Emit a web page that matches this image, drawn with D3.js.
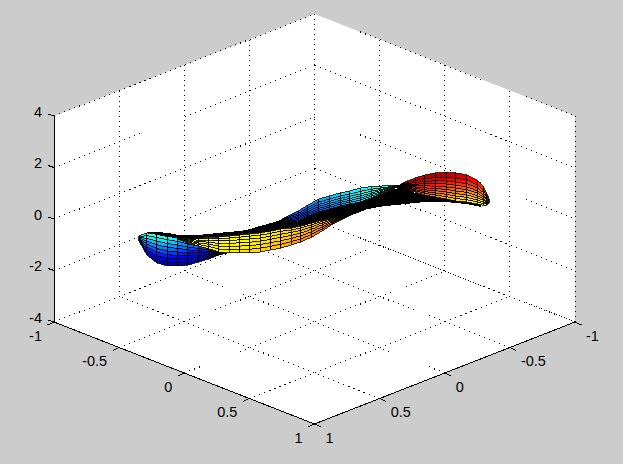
<!DOCTYPE html>
<html><head><meta charset="utf-8">
<script src="https://cdnjs.cloudflare.com/ajax/libs/d3/7.8.5/d3.min.js"></script>
<style>html,body{margin:0;padding:0;background:#ccc;overflow:hidden}svg{display:block}
text{font-family:"Liberation Sans",Arial,sans-serif;font-size:14.5px;fill:#000}</style>
</head><body><script>
const xTicks = [-1,-0.5,0,0.5,1];
const yTicks = [-1,-0.5,0,0.5,1];
const zTicks = [-4,-2,0,2,4];
const xTickLabels = ["-1","-0.5","0","0.5","1"];
const yTickLabels = ["-1","-0.5","0","0.5","1"];
const zTickLabels = ["-4","-2","0","2","4"];

// Surface. One view cannot give depth, so the ribbon is read in the plane y = -x.
const lobeX   = [-.674,-.643,-.605,-.564,-.524,-.486,-.445,-.405,-.367,-.336];
const lobeZ0  = [-.66,-.54,-.58,-.66,-.74,-.85,-.97,-1.09,-1.20,-1.32];
const lobeZ1  = [-.85,-1.40,-1.71,-1.82,-1.82,-1.79,-1.67,-1.55,-1.40,-1.32];
const lobeC0  = [.42,.44,.44,.42,.36,.30,.24,.20,.16,.12];
const lobeC1  = [.14,.06,.03,.02,.02,.02,.03,.03,.05,.08];

const edgeX   = [-.643,-.605,-.564,-.524,-.486,-.445,-.405,-.367,-.328,-.286,-.248,-.209,-.167,-.129,-.09,-.052,-.01,.029,.071,.109,.148,.19,.228,.267,.309,.347,.386,.424,.466,.505,.543,.585,.624,.639];
const edgeZ0  = [-.50,-.50,-.54,-.62,-.62,-.62,-.58,-.54,-.50,-.47,-.39,-.27,-.16,-.04,.12,.16,.19,.31,.43,.54,.62,.74,.85,1.01,1.17,1.24,1.01,.93,.85,.82,.74,.70,.62,.54];
const edgeZ1  = [-.54,-.62,-.70,-.74,-.74,-.74,-.70,-.70,-.66,-.62,-.58,-.54,-.47,-.39,-.35,-.27,-.16,-.04,.04,.08,.23,.35,.43,.50,.54,.58,.62,.66,.66,.66,.62,.58,.50,.47];

const warmX   = [-.524,-.486,-.445,-.405,-.367,-.328,-.286,-.248,-.209,-.167,-.129,-.09,-.052,-.01,.029,.071,.109,.148,.19];
const warmZ0  = [-.74,-.74,-.74,-.70,-.70,-.66,-.62,-.58,-.54,-.47,-.39,-.35,-.27,-.16,-.04,.04,.08,.23,.35];
const warmZ1  = [-.78,-.93,-1.05,-1.16,-1.28,-1.32,-1.32,-1.32,-1.28,-1.20,-1.13,-1.01,-.89,-.70,-.47,-.19,0,.19,.35];
const warmC0  = [.62,.62,.62,.62,.62,.62,.62,.63,.63,.64,.64,.65,.66,.66,.67,.68,.69,.70,.71];
const warmC1  = [.63,.63,.63,.63,.64,.64,.65,.66,.67,.68,.70,.72,.74,.76,.78,.80,.81,.82,.82];

const coolX   = [-.144,-.102,-.063,-.025,.017,.056,.098,.136,.175,.217,.255,.294,.328];
const coolZ0  = [-.12,.12,.31,.54,.78,.89,1.01,1.09,1.20,1.26,1.28,1.30,1.32];
const coolZ1  = [-.12,-.12,-.08,.12,.27,.39,.50,.58,.66,.82,.97,1.13,1.32];
const coolC0  = [.17,.20,.22,.26,.29,.32,.35,.37,.39,.41,.42,.42,.42];
const coolC1  = [.14,.16,.17,.19,.22,.24,.27,.30,.34,.37,.40,.41,.42];

const hotX    = [.313,.347,.386,.424,.466,.505,.543,.585,.624,.647,.662,.67];
const hotZ0   = [1.24,1.44,1.59,1.71,1.79,1.81,1.79,1.71,1.51,1.28,.97,.78];
const hotZ1   = [1.24,1.17,1.05,.93,.85,.78,.70,.66,.58,.54,.54,.62];
const hotC0   = [.90,.92,.95,.97,.98,.97,.95,.93,.88,.84,.78,.72];
const hotC1   = [.86,.84,.80,.76,.72,.68,.65,.63,.60,.60,.60,.62];

const W = 623, H = 464;
const svg = d3.select("body").append("svg").attr("width",W).attr("height",H);
svg.append("rect").attr("width",W).attr("height",H).attr("fill","#cccccc");

const sxX = d3.scaleLinear().domain([-1,1]).range([-130.25,130.25]);
const sxY = d3.scaleLinear().domain([-1,1]).range([130.25,-130.25]);
const syXY = d3.scaleLinear().domain([-1,1]).range([-51,51]);
const syZ = d3.scaleLinear().domain([-4,4]).range([0,-206]);
const px = (x,y) => 314.5 + sxX(x) + sxY(y);
const py = (x,y,z) => 322 + syXY(x) + syXY(y) + syZ(z);
const P = (x,y,z) => [px(x,y), py(x,y,z)];
const jet = d3.scaleLinear()
  .domain([0,.125,.375,.625,.875,1])
  .range(["#00008f","#0000ff","#00ffff","#ffff00","#ff0000","#800000"]).clamp(true);

// box
const corners = [[-1,1,-4],[-1,1,4],[-1,-1,4],[1,-1,4],[1,-1,-4],[1,1,-4]].map(c=>P(...c));
svg.append("polygon").attr("points",corners.map(c=>c.join(",")).join(" ")).attr("fill","#fff");

const g = svg.append("g").attr("shape-rendering","crispEdges");
const segs = [];
xTicks.forEach(x=>{ segs.push([[x,1,-4],[x,-1,-4],"1 4.4"]); segs.push([[x,-1,-4],[x,-1,4],"1 4"]); });
yTicks.forEach(y=>{ segs.push([[1,y,-4],[-1,y,-4],"1 4.4"]); segs.push([[-1,y,-4],[-1,y,4],"1 4"]); });
zTicks.forEach(z=>{ segs.push([[-1,1,z],[-1,-1,z],"1 4.4"]); segs.push([[-1,-1,z],[1,-1,z],"1 4.4"]); });
g.selectAll("line.grid").data(segs).join("line").attr("class","grid")
  .attr("x1",d=>px(d[0][0],d[0][1])).attr("y1",d=>py(...d[0]))
  .attr("x2",d=>px(d[1][0],d[1][1])).attr("y2",d=>py(...d[1]))
  .attr("stroke","#000").attr("stroke-width",1).attr("stroke-dasharray",d=>d[2]);

// surface patches
function patch(xs,z0,z1,c0,c1,rows,bias){
  const cells=[];
  for(let i=0;i<xs.length-1;i++)for(let r=0;r<rows;r++){
    const t0=Math.pow(r/rows,bias),t1=Math.pow((r+1)/rows,bias);
    const at=(k,t)=>{const z=z0[k]+(z1[k]-z0[k])*t;return P(xs[k],-xs[k],z);};
    const tm=(t0+t1)/2;
    const c=(c0[i]+c0[i+1])/2*(1-tm)+(c1[i]+c1[i+1])/2*tm;
    cells.push({pts:[at(i,t0),at(i+1,t0),at(i+1,t1),at(i,t1)],c});
  }
  return cells;
}
const surf = svg.append("g").attr("shape-rendering","crispEdges");
function drawPatch(cells){
  surf.append("g").selectAll("path").data(cells).join("path")
    .attr("d",d=>d3.line()(d.pts)+"Z").attr("fill",d=>jet(d.c))
    .attr("stroke","#000").attr("stroke-width",0.8);
}
drawPatch(patch(lobeX,lobeZ0,lobeZ1,lobeC0,lobeC1,8,1));
const band = edgeX.map((x,i)=>P(x,-x,edgeZ0[i])).concat(edgeX.map((x,i)=>P(x,-x,edgeZ1[i])).reverse());
surf.append("path").attr("d",d3.line()(band)+"Z").attr("fill","#000").attr("stroke","none");
drawPatch(patch(warmX,warmZ0,warmZ1,warmC0,warmC1,6,1.2));
drawPatch(patch(coolX,coolZ0,coolZ1,coolC0,coolC1,6,0.8));
drawPatch(patch(hotX,hotZ0,hotZ1,hotC0,hotC1,9,0.75));

// axes
const ax = svg.append("g").attr("shape-rendering","crispEdges").attr("stroke","#000").attr("stroke-width",1);
const ln=(a,b)=>ax.append("line").attr("x1",a[0]).attr("y1",a[1]).attr("x2",b[0]).attr("y2",b[1]);
ln(P(-1,1,-4),P(-1,1,4));
ln(P(-1,1,-4),P(1,1,-4));
ln(P(1,1,-4),P(1,-1,-4));
const tick=(p,dx,dy)=>ln(p,[p[0]+dx,p[1]+dy]);
xTicks.forEach(x=>tick(P(x,1,-4),-6.5,3));
yTicks.forEach(y=>tick(P(1,y,-4),6.5,3));
zTicks.forEach(z=>tick(P(-1,1,z),-6,-2));

const lab = svg.append("g");
lab.selectAll("text.x").data(xTicks).join("text").attr("class","x")
  .attr("x",d=>px(d,1)-12).attr("y",d=>py(d,1,-4)+18.5).attr("text-anchor","end").text((d,i)=>xTickLabels[i]);
lab.selectAll("text.y").data(yTicks).join("text").attr("class","y")
  .attr("x",d=>px(1,d)+11).attr("y",d=>py(1,d,-4)+18.5).attr("text-anchor","start").text((d,i)=>yTickLabels[i]);
lab.selectAll("text.z").data(zTicks).join("text").attr("class","z")
  .attr("x",d=>px(-1,1)-12).attr("y",d=>py(-1,1,d)+0.5).attr("text-anchor","end").text((d,i)=>zTickLabels[i]);
</script></body></html>
